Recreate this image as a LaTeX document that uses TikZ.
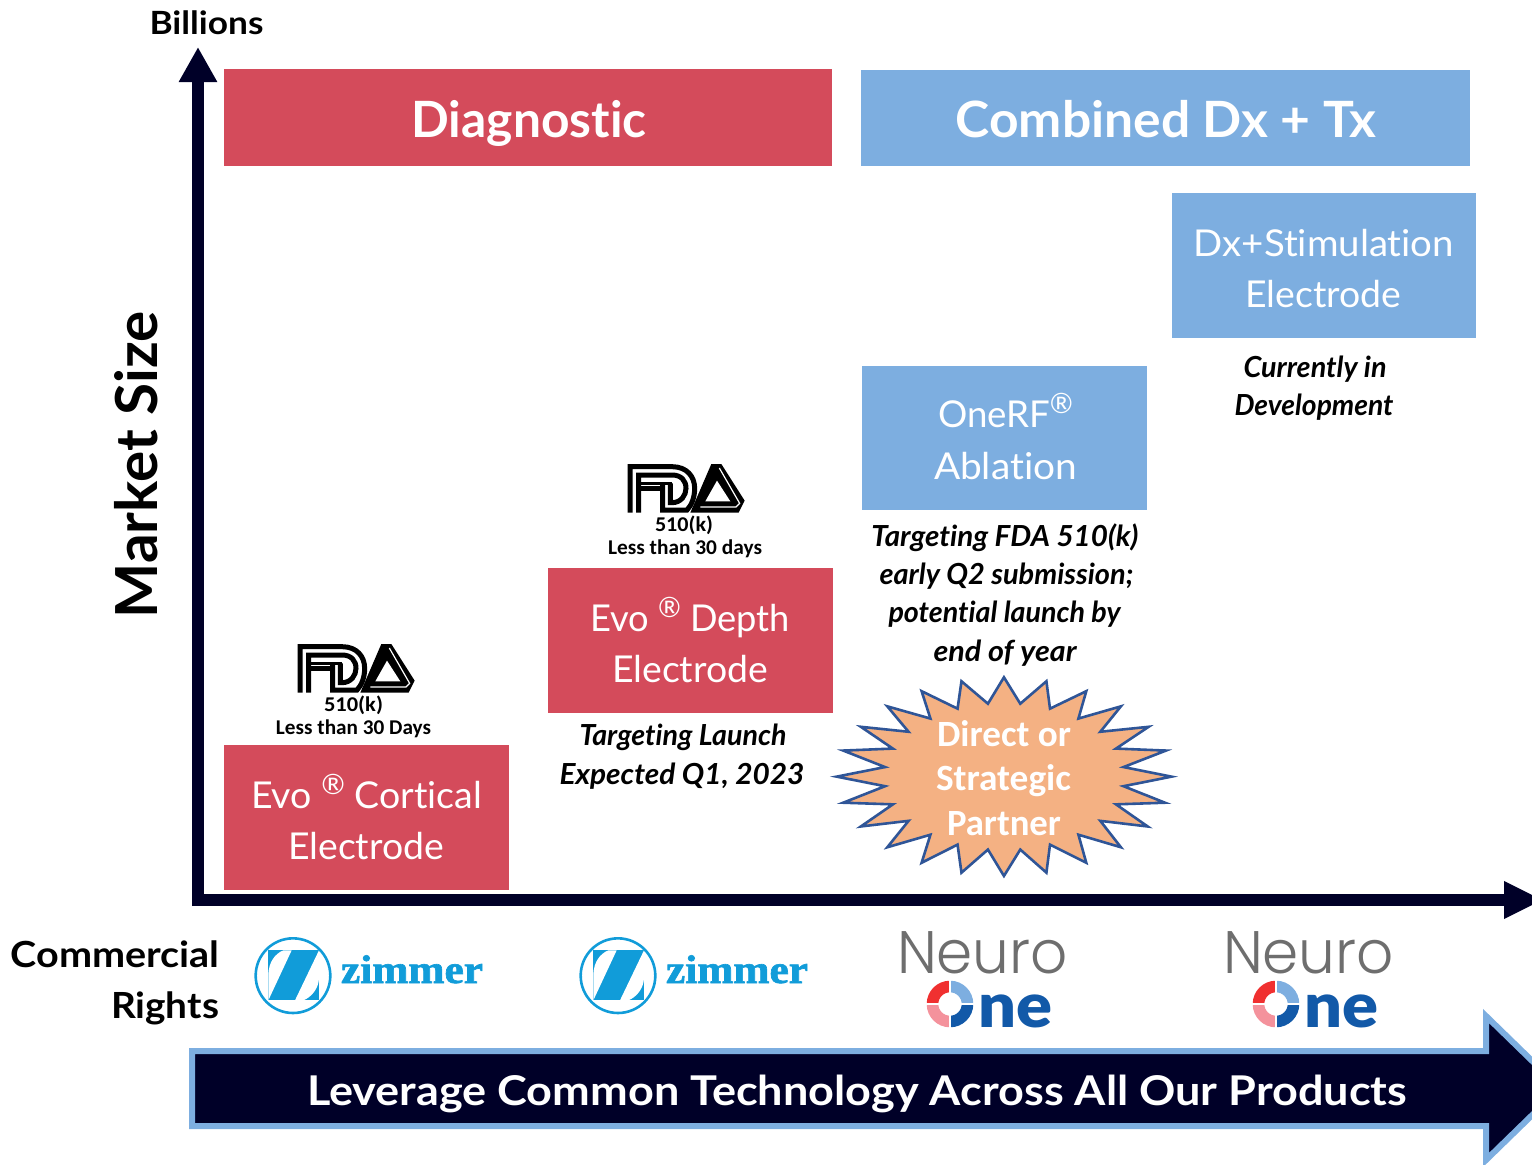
\documentclass[tikz,border=0pt]{standalone}
\usepackage{fontspec}
\usepackage{graphicx}
\usetikzlibrary{arrows.meta}
\setmainfont{Lato}[Ligatures=CommonOff]
\newfontfamily\blackf{Lato Black}[Ligatures=CommonOff]
\newfontfamily\neuf{Poppins Light}
\newfontfamily\calib{Carlito}[Ligatures=CommonOff]
\newfontfamily\zimf{Liberation Serif}[FakeBold=1.6]
\definecolor{redbox}{HTML}{D44B5B}
\definecolor{bluebox}{HTML}{7DAEE0}
\definecolor{navy}{HTML}{000028}
\definecolor{starfill}{HTML}{F4B183}
\definecolor{starline}{HTML}{2F5597}
\definecolor{zimblue}{HTML}{119CD9}
\definecolor{neugrey}{HTML}{6E6E6E}
\definecolor{onedark}{HTML}{1259A8}
\definecolor{onered}{HTML}{F03030}
\definecolor{onepink}{HTML}{F4929C}
\newcommand{\fs}[1]{\fontsize{#1}{#1}\selectfont}
\newcommand{\fitw}[2]{\resizebox{#1pt}{\height}{#2}}
\newcommand{\regm}[1]{\raisebox{.36em}{\fs{#1}®}}
\tikzset{
  redrect/.style={fill=redbox,draw=none},
  bluerect/.style={fill=bluebox,draw=none},
  lbl/.style={anchor=base,inner sep=0pt,outer sep=0pt},
  wlight/.style={lbl,text=white,font=\fs{37}},
  wbold/.style={lbl,text=white,font=\bfseries\fs{50}},
  note/.style={lbl,text=black,font=\bfseries\itshape\fs{29}},
  axisline/.style={draw=navy,line width=12pt},
  fdaline/.style={line width=5pt,draw=black,line join=miter,fill=none},
}
\newcommand{\fdalogo}[1]{%
\begin{scope}[shift={#1}]
 \begin{scope}[shift={(292,640)},x=.3333pt,y=-.3333pt]
  \draw[fdaline] (24,158)--(24,20)--(150,20) .. controls (195,20) and (218,50) .. (218,85) .. controls (218,110) and (210,135) .. (195,150)--(122,150)--(122,75);
  \draw[fdaline] (50,158)--(50,45)--(150,45) .. controls (178,45) and (192,62) .. (192,85) .. controls (192,105) and (178,128) .. (150,128)--(145,128)--(145,70);
  \draw[fdaline] (50,84)--(122,84);
  \fill (45,66) rectangle (150,75);
  \fill (205,158)--(268,12)--(298,12)--(368,122)--(350,158)--cycle;
  \draw[white,line width=1.2pt] (292,24)--(353,130)--(342,141)--(235,141);
  \fill[white] (250,124)--(285,62)--(325,124)--cycle;
 \end{scope}
\end{scope}}
\newcommand{\zimlogo}[2]{%
\begin{scope}[shift={#1}]
 \begin{scope}[shift={(250,932)},x=.3333pt,y=-.3333pt]
  \draw[zimblue,line width=2.6pt] (129,131) ellipse (112 and 112);
  \fill[zimblue] (55,55) rectangle (207,205);
  \fill[white] (100,55) .. controls (75,65) and (57,90) .. (55,125) -- (55,205) -- (125,55) -- cycle;
  \fill[white] (207,55) -- (135,205) -- (160,205) .. controls (185,195) and (205,170) .. (207,140) -- cycle;
 \end{scope}
 \node[lbl,text=zimblue] (#2) at (412,983) {\zimf\bfseries\fs{40}\fitw{142}{zimmer}};
\end{scope}}
\newcommand{\neulogo}[2]{%
\begin{scope}[shift={#1}]
 \node[lbl,text=neugrey] (#2n) at (982.5,973) {\neuf\fs{60}\fitw{171}{Neuro}};
 \node[lbl,text=onedark] (#2o) at (1015,1027) {\blackf\fs{62}\fitw{74}{ne}};
 \begin{scope}[shift={(950,1004)},x=1pt,y=1pt]
  \draw[onered,line width=11.6pt] (-17.5,0) arc[start angle=180,end angle=90,radius=17.5pt];
  \draw[bluebox,line width=11.6pt] (17.5,0) arc[start angle=0,end angle=90,radius=17.5pt];
  \draw[onepink,line width=11.6pt] (-17.5,0) arc[start angle=180,end angle=270,radius=17.5pt];
  \draw[onedark,line width=11.6pt] (17.5,0) arc[start angle=0,end angle=-90,radius=17.5pt];
  \draw[white,line width=1.2pt] (-25,0)--(25,0) (0,-25)--(0,25);
 \end{scope}
\end{scope}}
\begin{document}
\begin{tikzpicture}[x=1pt,y=-1pt]
\useasboundingbox (0,0) rectangle (1532,1165);
\begin{scope}
\clip (0,0) rectangle (1532,1165);
% axes
\coordinate (ybot) at (198,906);
\coordinate (ytop) at (198,47);
\coordinate (xleft) at (192,900);
\coordinate (xright) at (1543,900);
\draw[axisline,-{Triangle[length=35pt,width=36pt]}] (ybot) -- (ytop);
\draw[axisline,-{Triangle[length=39pt,width=35pt]}] (xleft) -- (xright);
% header boxes
\fill[redrect] (224,69) rectangle (832,166);
\fill[bluerect] (861,70) rectangle (1470,166);
\node[wbold] (diag) at (529,137) {\fitw{235}{Diagnostic}};
\node[wbold] (comb) at (1166,137) {\fitw{421}{Combined Dx + Tx}};
% product boxes
\fill[bluerect] (1172,193) rectangle (1476,338);
\node[wlight] (stim1) at (1324,256) {\fitw{260}{Dx+Stimulation}};
\node[wlight] (stim2) at (1323.5,307) {\fitw{156}{Electrode}};
\fill[bluerect] (862,366) rectangle (1147,510);
\node[wlight] (rf1) at (1005.5,427) {\fitw{135}{OneRF\regm{28}}};
\node[wlight] (rf2) at (1005.5,479) {\fitw{143}{Ablation}};
\fill[redrect] (548,568) rectangle (833,713);
\node[wlight] (dep1) at (690,631) {\fitw{200}{Evo \regm{28} Depth}};
\node[wlight] (dep2) at (690,682) {\fitw{156}{Electrode}};
\fill[redrect] (224,745) rectangle (509,890);
\node[wlight] (cor1) at (366.5,808) {\fitw{231}{Evo \regm{28} Cortical}};
\node[wlight] (cor2) at (366,859) {\fitw{156}{Electrode}};
% notes
\node[note] (n1) at (1315,377) {\fitw{143}{Currently in}};
\node[note] (n2) at (1314,415) {\fitw{159}{Development}};
\node[note] (n3) at (1005,546) {\fitw{267}{Targeting FDA 510(k)}};
\node[note] (n4) at (1006.5,584) {\fitw{254}{early Q2 submission;}};
\node[note] (n5) at (1004.5,622) {\fitw{232}{potential launch by}};
\node[note] (n6) at (1005,661) {\fitw{143}{end of year}};
\node[note] (n7) at (683,745) {\fitw{207}{Targeting Launch}};
\node[note] (n8) at (682,784) {\fitw{245}{Expected Q1, 2023}};
% fda
\fdalogo{(0,0)}
\fdalogo{(330,-180)}
\node[lbl,font=\calib\bfseries\fs{21}] (f1) at (353.5,711) {\fitw{59}{510(k)}};
\node[lbl,font=\calib\bfseries\fs{21}] (f2) at (353.5,734) {\fitw{155}{Less than 30 Days}};
\node[lbl,font=\calib\bfseries\fs{21}] (f3) at (684,531) {\fitw{58}{510(k)}};
\node[lbl,font=\calib\bfseries\fs{21}] (f4) at (685,554) {\fitw{154}{Less than 30 days}};
% star
\begin{scope}[shift={(833.4,670.7)},x=.3267pt,y=-.3300pt]
\filldraw[fill=starfill,draw=starline,line width=2.6pt,miter limit=10]
 (522,20)--(572,100)--(652,32)--(663,115)--(774,62)--(750,145)--(880,108)--(817,185)--(965,170)--(865,236)--(1018,242)--(888,292)--(1035,321)--(888,350)--(1015,400)--(865,405)--(962,472)--(817,455)--(880,535)--(750,497)--(774,582)--(663,527)--(652,612)--(572,542)--(522,622)--(473,542)--(392,612)--(380,527)--(270,582)--(297,497)--(165,535)--(230,455)--(84,472)--(182,405)--(30,400)--(158,350)--(10,321)--(158,292)--(30,242)--(182,236)--(84,170)--(230,185)--(165,108)--(297,145)--(270,62)--(380,115)--(392,32)--(473,100)--cycle;
\end{scope}
\node[lbl,text=white,font=\calib\bfseries\fs{37}] (s1) at (1004,746) {\fitw{134}{Direct or}};
\node[lbl,text=white,font=\calib\bfseries\fs{37}] (s2) at (1003.5,790) {\fitw{135}{Strategic}};
\node[lbl,text=white,font=\calib\bfseries\fs{37}] (s3) at (1004,835) {\fitw{114}{Partner}};
% axis labels
\node[lbl,font=\bfseries\fs{32}] (bil) at (206.5,34) {\fitw{114}{Billions}};
\node[lbl,font=\bfseries\fs{58},rotate=90] (mkt) at (157,465) {\fitw{307}{Market Size}};
\node[lbl,font=\bfseries\fs{36}] (com) at (115,967) {\fitw{209}{Commercial}};
\node[lbl,font=\bfseries\fs{36}] (rig) at (165,1018) {\fitw{108}{Rights}};
% logos
\zimlogo{(0,0)}{z1}
\zimlogo{(325,0)}{z2}
\neulogo{(0,0)}{a}
\neulogo{(326,0)}{b}
% big arrow
\filldraw[fill=navy,draw=bluebox,line width=6pt,miter limit=10]
 (192,1051)--(1486,1051)--(1486,1016)--(1560,1088)--(1486,1160)--(1486,1126)--(192,1126)--cycle;
\node[lbl,text=white,font=\bfseries\fs{41}] (lev) at (857,1105) {\fitw{1100}{Leverage Common Technology Across All Our Products}};
\end{scope}
\end{tikzpicture}
\end{document}
